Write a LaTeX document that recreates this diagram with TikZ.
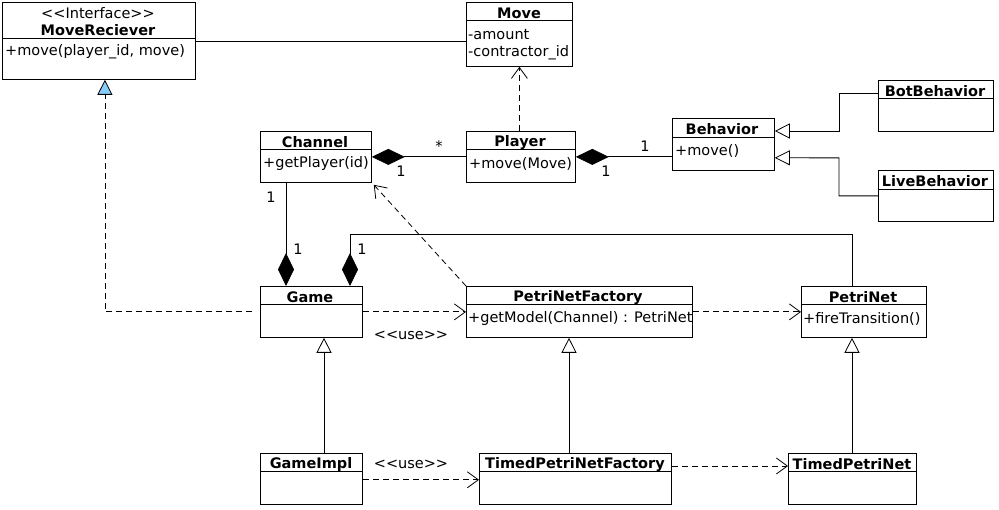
\documentclass[tikz,border=0pt]{standalone}
\usepackage{fontspec}
\setmainfont{DejaVu Sans}
\usetikzlibrary{calc, arrows.meta, positioning}
\definecolor{ifaceblue}{RGB}{135,206,250}

\newcommand{\diagfont}{\fontsize{14.5}{17}\selectfont}

% one class box: name, x, y, width, height, head height
\newcommand{\umlclass}[6]{%
  \node[classbox, minimum width=#4pt, minimum height=#5pt] (#1) at (#2,#3) {};
  \draw[assoc] ($(#1.north west)+(0,#6)$) -- ($(#1.north east)+(0,#6)$);}

\tikzset{
  classbox/.style={draw, anchor=north west, inner sep=0pt, line width=0.8pt},
  classname/.style={font=\diagfont\bfseries, inner sep=0pt, yshift=-1.5pt},
  member/.style={anchor=west, inner sep=0pt, yshift=-2pt},
  tag/.style={inner sep=0pt},
  assoc/.style={line width=0.8pt},
  dep/.style={assoc, dash pattern=on 6pt off 4pt, -{Straight Barb[length=11pt,width=16pt]}},
  realize/.style={assoc, dash pattern=on 6pt off 4pt, -{Triangle[length=15pt,width=15pt,fill=ifaceblue]}},
  inherit/.style={assoc, -{Triangle[open,length=15pt,width=15pt]}},
  comp/.style={assoc, -{Diamond[length=33pt,width=16pt]}},
}

\begin{document}
\begin{tikzpicture}[x=1pt,y=-1pt,font=\diagfont]
\useasboundingbox (0,0) rectangle (999,510);

% classes
\umlclass{movereciever}{2}{2}{193}{77}{36}
\umlclass{move}{466}{2}{106}{64}{18}
\umlclass{channel}{260}{131}{111}{51}{18}
\umlclass{player}{466}{131}{109}{51}{18}
\umlclass{behavior}{672}{118}{102}{52}{19}
\umlclass{botbehavior}{878}{80}{115}{51}{18}
\umlclass{livebehavior}{878}{170}{115}{51}{19}
\umlclass{game}{260}{286}{102}{51}{18}
\umlclass{petrinetfactory}{466}{286}{226}{51}{18}
\umlclass{petrinet}{801}{286}{125}{51}{18}
\umlclass{gameimpl}{260}{453}{102}{51}{18}
\umlclass{timedfactory}{479}{453}{192}{51}{18}
\umlclass{timedpetrinet}{788}{453}{128}{51}{18}

% class texts
\node[tag] at (98,13) {<{}<Interface>{}>};
\node[classname] at (98,29) {MoveReciever};
\node[member] at (5,50) {+move(player\_id, move)};
\node[classname] at (519,12) {Move};
\node[member] at (468,33) {-amount};
\node[member] at (468,51) {-contractor\_id};
\node[classname] at (315,141) {Channel};
\node[member] at (263,162) {+getPlayer(id)};
\node[classname] at (520,141) {Player};
\node[member] at (469,162) {+move(Move)};
\node[classname] at (722,128) {Behavior};
\node[member] at (675,149) {+move()};
\node[classname] at (935,90) {BotBehavior};
\node[classname] at (935,180) {LiveBehavior};
\node[classname] at (310,296) {Game};
\node[classname] at (578,296) {PetriNetFactory};
\node[member] at (468,317) {+getModel(Channel) : PetriNet};
\node[classname] at (863,296) {PetriNet};
\node[member] at (803,317) {+fireTransition()};
\node[classname] at (311,463) {GameImpl};
\node[classname] at (575,463) {TimedPetriNetFactory};
\node[classname] at (852,463) {TimedPetriNet};

% helper points
\coordinate (gamein) at ($(game.north west)+(26,0)$);
\coordinate (gamenet) at ($(game.north west)+(90,0)$);
\coordinate (netout) at ($(petrinet.north west)+(51,0)$);
\coordinate (netin) at ($(petrinet.south west)+(51,0)$);
\coordinate (ifacein) at ($(movereciever.south)+(6,0)$);
\coordinate (gameout) at ($(game.west)+(-8,0)$);

% connectors
\draw[assoc] (movereciever.east |- 0,41) -- (move.west |- 0,41);
\draw[dep] (move.south |- player.north) -- (move.south);
\draw[comp] (player.west) -- (channel.east);
\draw[comp] (behavior.west |- player.east) -- (player.east);
\draw[inherit] ($(botbehavior.north west)+(0,13)$) -| ++(-39,38) -- ($(behavior.north east)+(0,13)$);
\draw[inherit] (livebehavior.west) -| ++(-39,-38) -- ($(behavior.south east)+(0,-13)$);
\draw[realize] (gameout) -| (ifacein);
\draw[comp] (gamein |- channel.south) -- (gamein);
\draw[comp] (netout) |- ($(gamenet)+(0,-52)$) -- (gamenet);
\draw[dep] (petrinetfactory.north west) -- ($(channel.south east)+(2,2)$);
\draw[dep] (game.east) -- (petrinetfactory.west);
\draw[dep] (petrinetfactory.east) -- (petrinet.west);
\draw[inherit] (gameimpl.north -| 324,0) -- (game.south -| 324,0);
\draw[inherit] (timedfactory.north -| 569,0) -- (petrinetfactory.south -| 569,0);
\draw[inherit] (timedpetrinet.north -| netin) -- (netin);
\draw[dep] ($(gameimpl.south east)+(0,-25)$) -- ($(timedfactory.south west)+(0,-25)$);
\draw[dep] ($(timedfactory.north east)+(0,13)$) -- ($(timedpetrinet.north west)+(0,13)$);

% multiplicities and stereotypes
\node[tag] at (439,146) {*};
\node[tag] at (401,171) {1};
\node[tag] at (645,146) {1};
\node[tag] at (606,171) {1};
\node[tag] at (271,197) {1};
\node[tag] at (298,249) {1};
\node[tag] at (362,249) {1};
\node[tag] at (411,335) {<{}<use>{}>};
\node[tag] at (411,464) {<{}<use>{}>};
\end{tikzpicture}
\end{document}
